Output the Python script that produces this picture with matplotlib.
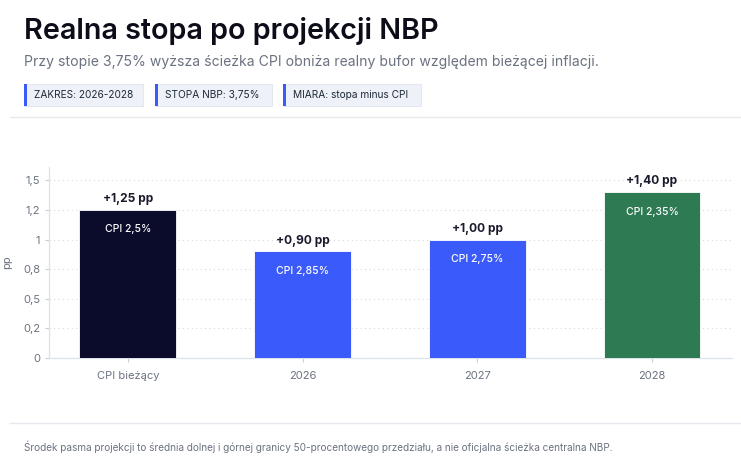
#!/usr/bin/env python3
"""Realna stopa po projekcji NBP - bar chart."""

import matplotlib

matplotlib.use("Agg")
import matplotlib.pyplot as plt
from matplotlib.patches import Rectangle
from matplotlib.lines import Line2D
from matplotlib.ticker import FixedLocator, FuncFormatter

plt.rcParams["font.family"] = ["Inter", "DejaVu Sans"]

categories = ["CPI bieżący", "2026", "2027", "2028"]
real_rate_pp = [1.25, 0.90, 1.00, 1.40]
cpi_labels = ["CPI 2,5%", "CPI 2,85%", "CPI 2,75%", "CPI 2,35%"]
bar_colors = ["#0b0b2c", "#3a5bfa", "#3a5bfa", "#2d7a53"]
y_ticks = [0, 0.25, 0.5, 0.75, 1.0, 1.25, 1.5]
tags = ["ZAKRES: 2026-2028", "STOPA NBP: 3,75%", "MIARA: stopa minus CPI"]

W, H = 741, 465
fig = plt.figure(figsize=(W / 100, H / 100), dpi=100)
fig.patch.set_facecolor("white")


def fx(px):
    return px / W


def fy(py):
    return 1 - py / H


fig.text(fx(24), fy(31), "Realna stopa po projekcji NBP", fontsize=20.7, fontweight="semibold",
         color="#0d0d1a", va="center", ha="left")
fig.text(fx(24), fy(62), "Przy stopie 3,75% wyższa ścieżka CPI obniża realny bufor względem bieżącej inflacji.",
         fontsize=10.1, color="#6b7280", va="center", ha="left")

# tag boxes
tag_x = [24, 155, 283]
tag_w = [119, 117, 138]
for x0, w, label in zip(tag_x, tag_w, tags):
    fig.patches.append(Rectangle((fx(x0), fy(106)), fx(w), 22 / H, transform=fig.transFigure,
                                 facecolor="#eef2f8", edgecolor="#dfe4ee", linewidth=0.6))
    fig.patches.append(Rectangle((fx(x0), fy(106)), fx(3), 22 / H, transform=fig.transFigure,
                                 facecolor="#3a5bfa", edgecolor="none"))
    fig.text(fx(x0 + 10), fy(95), label, fontsize=7.3, color="#1f2937", va="center", ha="left")

for yline in (117, 423):
    fig.lines.append(Line2D([fx(10), 1], [fy(yline), fy(yline)], transform=fig.transFigure,
                            color="#e6e9ef", linewidth=1.0))

fig.text(fx(24), fy(447), "Środek pasma projekcji to średnia dolnej i górnej granicy 50-procentowego przedziału, "
         "a nie oficjalna ścieżka centralna NBP.", fontsize=7.2, color="#6b7280", va="center", ha="left")

ax = fig.add_axes([fx(49), fy(358), fx(732 - 49), (358 - 167) / H])
x = list(range(len(categories)))
bars = ax.bar(x, real_rate_pp, width=0.555, color=bar_colors, edgecolor="white", linewidth=0.6, zorder=3)

for xi, val, cpi in zip(x, real_rate_pp, cpi_labels):
    ax.annotate(f"+{val:.2f} pp".replace(".", ","), (xi, val), xytext=(0, 3.5), textcoords="offset points",
                ha="center", va="bottom", fontsize=8.6, fontweight="bold", color="#1a1a2e")
    ax.annotate(cpi, (xi, val), xytext=(0, -14), textcoords="offset points",
                ha="center", va="center", fontsize=7.5, fontweight="medium", color="white")

ax.set_xlim(-0.452, 3.458)
ax.set_ylim(0, 1.613)
ax.yaxis.set_major_locator(FixedLocator(y_ticks))


def fmt(v, _pos):
    if float(v).is_integer():
        return f"{int(v)}"
    return f"{v:.1f}".replace(".", ",")


ax.yaxis.set_major_formatter(FuncFormatter(fmt))
ax.set_xticks(x)
ax.set_xticklabels(categories)
ax.grid(axis="y", linestyle=(0, (1, 3)), color="#d5d9e0", linewidth=0.8, zorder=0)
for side in ("top", "right"):
    ax.spines[side].set_visible(False)
for side in ("left", "bottom"):
    ax.spines[side].set_color("#dde2ea")
    ax.spines[side].set_linewidth(0.9)
ax.tick_params(axis="both", colors="#c8cdd6", labelcolor="#6b7280", labelsize=8, length=3, width=0.8)
ax.tick_params(axis="x", pad=6)
ax.set_ylabel("pp", fontsize=8, color="#6b7280", labelpad=8)

fig.savefig("out.png", dpi=100, facecolor="white")
